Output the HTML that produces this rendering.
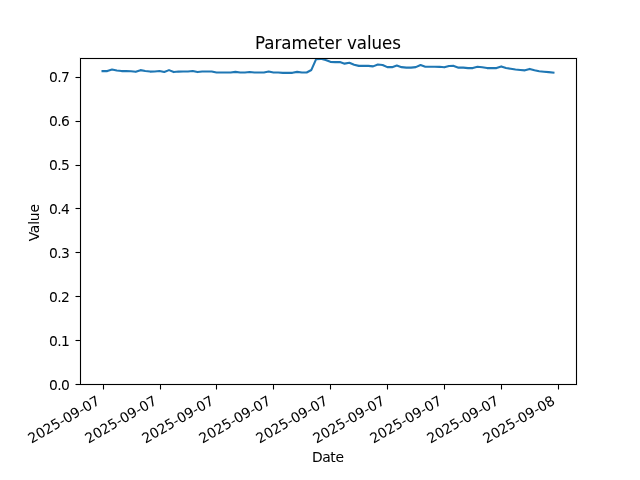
<!DOCTYPE html>
<html lang="en">
<head>
<meta charset="utf-8">
<title>Parameter values</title>
<style>
html,body{margin:0;padding:0;background:#fff;}
body{width:640px;height:480px;overflow:hidden;}
svg{display:block;}
text{font-family:'DejaVu Sans', 'Liberation Sans', sans-serif;fill:#000;stroke:#000;}
.t10{font-size:13.889px;stroke-width:0.03px;}
.t12{font-size:16.667px;stroke-width:0.05px;}
</style>
</head>
<body>
<svg width="640" height="480" viewBox="0 0 640 480">
<rect x="0" y="0" width="640" height="480" fill="#ffffff"/>
<defs><clipPath id="ax"><rect x="80" y="58" width="496" height="326"/></clipPath></defs>
<g clip-path="url(#ax)">
<polyline fill="none" stroke="#1f77b4" stroke-width="2.1" stroke-linecap="square" stroke-linejoin="round" points="102.55,71.08 107.29,71.08 112.04,69.51 116.78,70.58 121.53,71.08 126.28,71.08 131.02,71.20 135.77,71.83 140.52,70.14 145.26,71.08 150.01,71.58 154.76,71.45 159.50,70.95 164.25,72.01 169.00,70.14 173.74,72.08 178.49,71.58 183.23,71.51 187.98,71.45 192.73,70.95 197.47,72.08 202.22,71.51 206.97,71.45 211.71,71.51 216.46,72.51 221.21,72.51 225.95,72.51 230.70,72.45 235.44,71.89 240.19,72.45 244.94,72.45 249.68,72.01 254.43,72.51 259.18,72.51 263.92,72.45 268.67,71.51 273.42,72.45 278.16,72.51 282.91,72.83 287.66,72.89 292.40,72.83 297.15,71.89 301.89,72.51 306.64,72.45 311.39,69.95 316.13,59.20 320.88,58.83 325.63,60.08 330.37,61.83 335.12,62.08 339.87,62.08 344.61,63.64 349.36,62.76 354.11,64.70 358.85,65.89 363.60,65.89 368.34,65.89 373.09,66.39 377.84,64.45 382.58,64.95 387.33,67.14 392.08,67.14 396.82,65.45 401.57,67.14 406.32,67.64 411.06,67.64 415.81,67.14 420.56,65.01 425.30,66.70 430.05,66.70 434.79,66.70 439.54,66.83 444.29,67.33 449.03,66.01 453.78,65.89 458.53,67.64 463.27,67.64 468.02,68.08 472.77,68.08 477.51,66.70 482.26,67.20 487.00,68.08 491.75,68.08 496.50,68.08 501.24,66.39 505.99,68.08 510.74,68.70 515.48,69.51 520.23,69.95 524.98,70.33 529.72,68.89 534.47,70.33 539.22,71.20 543.96,71.70 548.71,72.14 553.45,72.64"/>
</g>
<g fill="#000" shape-rendering="crispEdges">
<rect x="79" y="57" width="499" height="3" fill-opacity="0.055"/><rect x="79" y="383" width="499" height="3" fill-opacity="0.055"/><rect x="79" y="60" width="3" height="323" fill-opacity="0.055"/><rect x="575" y="60" width="3" height="323" fill-opacity="0.055"/>
<rect x="102" y="386" width="3" height="3" fill-opacity="0.055"/><rect x="103" y="384" width="1" height="5"/><rect x="103" y="389" width="1" height="1" fill-opacity="0.5"/><rect x="159" y="386" width="3" height="3" fill-opacity="0.055"/><rect x="160" y="384" width="1" height="5"/><rect x="160" y="389" width="1" height="1" fill-opacity="0.5"/><rect x="215" y="386" width="3" height="3" fill-opacity="0.055"/><rect x="216" y="384" width="1" height="5"/><rect x="216" y="389" width="1" height="1" fill-opacity="0.5"/><rect x="272" y="386" width="3" height="3" fill-opacity="0.055"/><rect x="273" y="384" width="1" height="5"/><rect x="273" y="389" width="1" height="1" fill-opacity="0.5"/><rect x="329" y="386" width="3" height="3" fill-opacity="0.055"/><rect x="330" y="384" width="1" height="5"/><rect x="330" y="389" width="1" height="1" fill-opacity="0.5"/><rect x="386" y="386" width="3" height="3" fill-opacity="0.055"/><rect x="387" y="384" width="1" height="5"/><rect x="387" y="389" width="1" height="1" fill-opacity="0.5"/><rect x="443" y="386" width="3" height="3" fill-opacity="0.055"/><rect x="444" y="384" width="1" height="5"/><rect x="444" y="389" width="1" height="1" fill-opacity="0.5"/><rect x="500" y="386" width="3" height="3" fill-opacity="0.055"/><rect x="501" y="384" width="1" height="5"/><rect x="501" y="389" width="1" height="1" fill-opacity="0.5"/><rect x="557" y="386" width="3" height="3" fill-opacity="0.055"/><rect x="558" y="384" width="1" height="5"/><rect x="558" y="389" width="1" height="1" fill-opacity="0.5"/>
<rect x="76" y="383" width="3" height="3" fill-opacity="0.055"/><rect x="76" y="384" width="5" height="1"/><rect x="75" y="384" width="1" height="1" fill-opacity="0.5"/><rect x="76" y="339" width="3" height="3" fill-opacity="0.055"/><rect x="76" y="340" width="5" height="1"/><rect x="75" y="340" width="1" height="1" fill-opacity="0.5"/><rect x="76" y="295" width="3" height="3" fill-opacity="0.055"/><rect x="76" y="296" width="5" height="1"/><rect x="75" y="296" width="1" height="1" fill-opacity="0.5"/><rect x="76" y="251" width="3" height="3" fill-opacity="0.055"/><rect x="76" y="252" width="5" height="1"/><rect x="75" y="252" width="1" height="1" fill-opacity="0.5"/><rect x="76" y="207" width="3" height="3" fill-opacity="0.055"/><rect x="76" y="208" width="5" height="1"/><rect x="75" y="208" width="1" height="1" fill-opacity="0.5"/><rect x="76" y="164" width="3" height="3" fill-opacity="0.055"/><rect x="76" y="165" width="5" height="1"/><rect x="75" y="165" width="1" height="1" fill-opacity="0.5"/><rect x="76" y="120" width="3" height="3" fill-opacity="0.055"/><rect x="76" y="121" width="5" height="1"/><rect x="75" y="121" width="1" height="1" fill-opacity="0.5"/><rect x="76" y="76" width="3" height="3" fill-opacity="0.055"/><rect x="76" y="77" width="5" height="1"/><rect x="75" y="77" width="1" height="1" fill-opacity="0.5"/>
<rect x="80" y="58" width="497" height="1"/><rect x="80" y="384" width="497" height="1"/><rect x="80" y="58" width="1" height="327"/><rect x="576" y="58" width="1" height="327"/>
</g>
<g class="t10">
<text transform="translate(31.541 443.732) rotate(-30)" letter-spacing="-0.05">2025-09-07</text>
<text transform="translate(88.540 443.743) rotate(-30)" letter-spacing="-0.05">2025-09-07</text>
<text transform="translate(145.463 443.735) rotate(-30)" letter-spacing="-0.05">2025-09-07</text>
<text transform="translate(202.545 443.744) rotate(-30)" letter-spacing="-0.05">2025-09-07</text>
<text transform="translate(259.545 443.742) rotate(-30)" letter-spacing="-0.05">2025-09-07</text>
<text transform="translate(316.476 443.665) rotate(-30)" letter-spacing="-0.05">2025-09-07</text>
<text transform="translate(373.464 443.735) rotate(-30)" letter-spacing="-0.05">2025-09-07</text>
<text transform="translate(430.545 443.740) rotate(-30)" letter-spacing="-0.05">2025-09-07</text>
<text transform="translate(486.530 443.678) rotate(-30)" letter-spacing="-0.05">2025-09-08</text>
<text x="69.278" y="389.631" text-anchor="end" letter-spacing="-0.6">0.0</text>
<text x="69.278" y="345.563" text-anchor="end" letter-spacing="-0.6">0.1</text>
<text x="69.278" y="301.689" text-anchor="end" letter-spacing="-0.6">0.2</text>
<text x="69.278" y="257.756" text-anchor="end" letter-spacing="-0.6">0.3</text>
<text x="69.278" y="213.815" text-anchor="end" letter-spacing="-0.6">0.4</text>
<text x="69.278" y="169.708" text-anchor="end" letter-spacing="-0.6">0.5</text>
<text x="69.278" y="125.862" text-anchor="end" letter-spacing="-0.6">0.6</text>
<text x="69.278" y="81.989" text-anchor="end" letter-spacing="-0.6">0.7</text>
<text x="327.750" y="461.530" text-anchor="middle" letter-spacing="-0.4">Date</text>
<text transform="translate(38.746 222.800) rotate(-90)" text-anchor="middle" letter-spacing="-0.2">Value</text>
</g>
<text class="t12" transform="translate(328.000 48.767) scale(1 1.06)" text-anchor="middle" letter-spacing="0">Parameter values</text>
</svg>
</body>
</html>
